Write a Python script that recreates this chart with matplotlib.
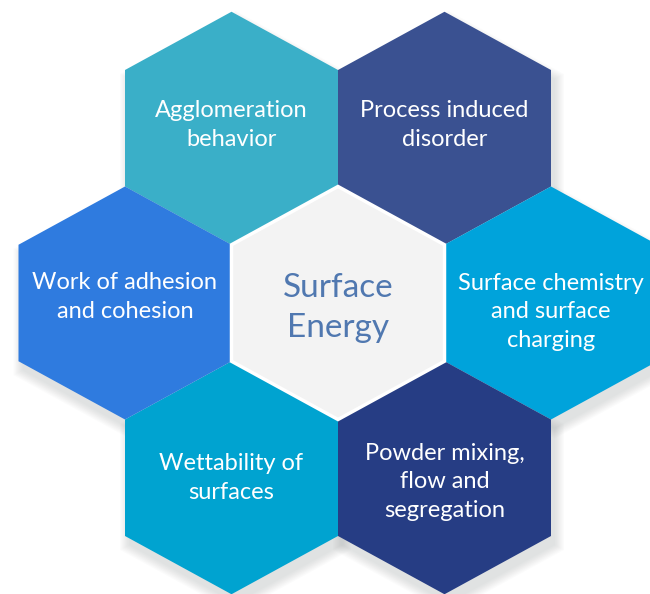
import numpy as np
from matplotlib import pyplot as plt
from matplotlib.patches import Polygon

# hexagon labels, going round the centre
labels = ['Agglomeration\nbehavior', 'Process induced\ndisorder',
          'Surface chemistry\nand surface\ncharging', 'Powder mixing,\nflow and\nsegregation',
          'Wettability of\nsurfaces', 'Work of adhesion\nand cohesion']
colors = ['#3AAFC8', '#3A5191', '#00A3DB', '#263D84', '#00A3D0', '#2F7BDF']
center_label = 'Surface\nEnergy'

plt.rcParams['font.family'] = ['Lato', 'DejaVu Sans']

fig = plt.figure(figsize=(6.5, 5.94), dpi=100)
ax = fig.add_axes([0, 0, 1, 1])
ax.set_xlim(0, 650)
ax.set_ylim(594, 0)
ax.axis('off')

w, r = 106.5, 116.5   # half width, radius (pixels)
cx, cy = 338, 303


def hexagon(x, y, s=1.0):
    return [(x, y - r * s), (x + w * s, y - r * s / 2), (x + w * s, y + r * s / 2),
            (x, y + r * s), (x - w * s, y + r * s / 2), (x - w * s, y - r * s / 2)]


# neighbour offsets: upper-left, upper-right, right, lower-right, lower-left, left
offsets = [(-w, -1.5 * r), (w, -1.5 * r), (2 * w, 0), (w, 1.5 * r), (-w, 1.5 * r), (-2 * w, 0)]
text_dy = [-3, -3, 9, 4, 0, -6]
centers = [(cx + dx, cy + dy) for dx, dy in offsets]

# soft shadow
for k in range(8):
    for (x, y) in centers + [(cx, cy)]:
        ax.add_patch(Polygon(hexagon(x + 4, y + 9, 1.0 + k * 0.012), closed=True,
                             facecolor='#9aa0a0', edgecolor='none', alpha=0.04, zorder=1))

for (x, y), lab, col, dy in zip(centers, labels, colors, text_dy):
    ax.add_patch(Polygon(hexagon(x, y), closed=True, facecolor=col, edgecolor='none', zorder=2))
    ax.text(x, y + dy, lab, color='white', fontsize=17, ha='center', va='center',
            multialignment='center', linespacing=1.45, zorder=4)

ax.add_patch(Polygon(hexagon(cx, cy), closed=True, facecolor='#F3F3F3',
                     edgecolor='white', linewidth=2.5, zorder=3))
ax.text(cx, cy + 5, center_label, color='#5078B0', fontsize=24, ha='center', va='center',
        multialignment='center', linespacing=1.4, zorder=4)

plt.savefig('out.png', dpi=100)
